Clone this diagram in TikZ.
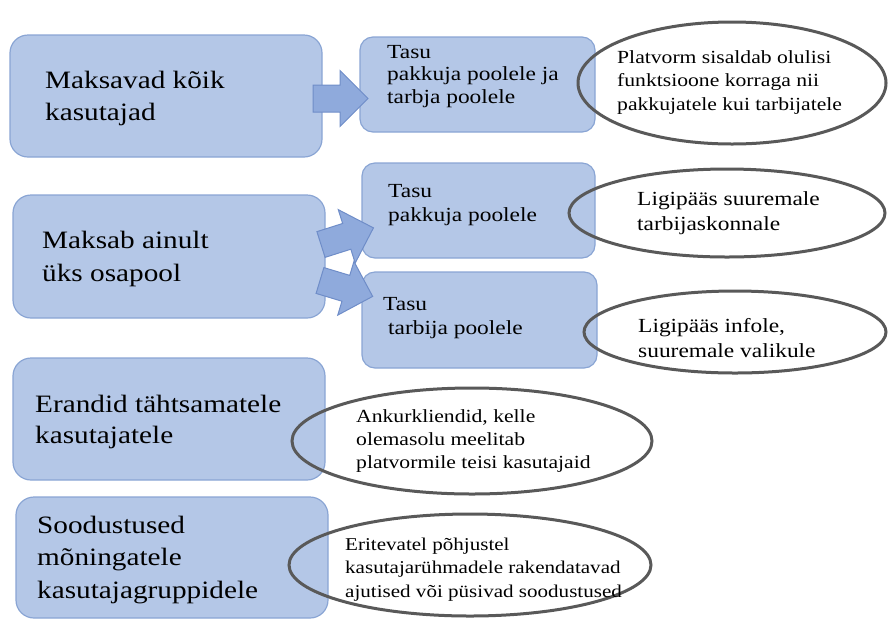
\documentclass[tikz,border=0pt]{standalone}
\usepackage{fontspec}
\setmainfont{Liberation Serif}[FakeStretch=1.17]
\usetikzlibrary{shapes.geometric}

\definecolor{boxfill}{HTML}{B4C7E7}
\definecolor{boxline}{HTML}{8AA5D4}
\definecolor{arrfill}{HTML}{8FAADC}
\definecolor{arrline}{HTML}{6F8DC8}
\definecolor{ovalline}{HTML}{595959}

% lines of text stacked left aligned; the box baseline is the first line's
\newcommand\txtlines[1]{\vtop{\halign{##\hfil\cr#1\crcr}}}

\tikzset{
  bigbox/.style={draw=boxline, line width=1.2pt, fill=boxfill, rounded corners=18pt, inner sep=0pt},
  smallbox/.style={draw=boxline, line width=1.2pt, fill=boxfill, rounded corners=13pt, inner sep=0pt},
  oval/.style={ellipse, draw=ovalline, line width=3pt, inner sep=0pt},
  txt/.style={anchor=base west, inner sep=0pt, text=black},
  arrowshape/.style={draw=arrline, line width=1pt, fill=arrfill, line join=miter},
}

% block arrow: tail centre at #1, turned by #2 degrees (counter-clockwise)
\newcommand\blockarrow[2]{%
  \begin{scope}[shift={#1}, rotate=#2]
    \draw[arrowshape] (0,-13.5) -- (27,-13.5) -- (27,-28) -- (55,0) -- (27,28) -- (27,13.5) -- (0,13.5) -- cycle;
  \end{scope}}

\begin{document}
\begin{tikzpicture}[x=1pt, y=-1pt]
\useasboundingbox (0,0) rectangle (888,622);

% left column
\node[bigbox, minimum width=312pt, minimum height=122pt] (b1) at (166,96) {};
\node[bigbox, minimum width=312pt, minimum height=123pt] (b3) at (169,256.5) {};
\node[bigbox, minimum width=312pt, minimum height=122pt] (b5) at (169,419) {};
\node[bigbox, minimum width=312pt, minimum height=121pt] (b6) at (172,557.5) {};

% middle column
\node[smallbox, minimum width=235pt, minimum height=95pt] (b2) at (477.5,84.5) {};
\node[smallbox, minimum width=233pt, minimum height=95pt] (b4a) at (478.5,210.5) {};
\node[smallbox, minimum width=235pt, minimum height=96pt] (b4b) at (479.5,320) {};

% block arrows between the columns
\blockarrow{(313,98.5)}{0}
\blockarrow{(321,244.5)}{17.6}
\blockarrow{(320,280.5)}{-16.8}

% ovals
\node[oval, minimum width=308pt, minimum height=122pt] (e1) at (732,83) {};
\node[oval, minimum width=316pt, minimum height=88pt] (e2) at (727,213) {};
\node[oval, minimum width=302pt, minimum height=82pt] (e3) at (735,332) {};
\node[oval, minimum width=360pt, minimum height=106pt] (e4) at (472,441) {};
\node[oval, minimum width=362pt, minimum height=102pt] (e5) at (470,565) {};

% texts of the boxes
\node[txt, font=\fontsize{25}{32}\selectfont] (t1) at (45,88) {\txtlines{Maksavad kõik\cr kasutajad}};
\node[txt, font=\fontsize{25}{33}\selectfont] (t3) at (42,248) {\txtlines{Maksab ainult\cr üks osapool}};
\node[txt, font=\fontsize{25}{31}\selectfont] (t5) at (35,412) {\txtlines{Erandid tähtsamatele\cr kasutajatele}};
\node[txt, font=\fontsize{25}{32.5}\selectfont] (t6) at (37,533) {\txtlines{Soodustused\cr mõningatele\cr kasutajagruppidele}};

\node[txt, font=\fontsize{20}{22.5}\selectfont] (t2) at (387,58) {\txtlines{Tasu\cr pakkuja poolele ja\cr tarbja poolele}};
\node[txt, font=\fontsize{20}{24}\selectfont] (t4a) at (388,197) {\txtlines{Tasu\cr pakkuja poolele}};
\node[txt, font=\fontsize{20}{24}\selectfont] (t4b) at (383,310) {Tasu};
\node[txt, font=\fontsize{20}{24}\selectfont] (t4c) at (388,334) {tarbija poolele};

% texts of the ovals
\node[txt, font=\fontsize{18.5}{23.5}\selectfont] (s1) at (617,63) {\txtlines{Platvorm sisaldab olulisi\cr funktsioone korraga nii\cr pakkujatele kui tarbijatele}};
\node[txt, font=\fontsize{20}{25}\selectfont] (s2) at (637,205) {\txtlines{Ligipääs suuremale\cr tarbijaskonnale}};
\node[txt, font=\fontsize{20}{25}\selectfont] (s3) at (638,332) {\txtlines{Ligipääs infole,\cr suuremale valikule}};
\node[txt, font=\fontsize{18.5}{23}\selectfont] (s4) at (356,422) {\txtlines{Ankurkliendid, kelle\cr olemasolu meelitab\cr platvormile teisi kasutajaid}};
\node[txt, font=\fontsize{18}{23.5}\selectfont] (s5) at (345,550) {\txtlines{Eritevatel põhjustel\cr kasutajarühmadele rakendatavad\cr ajutised või püsivad soodustused}};
\end{tikzpicture}
\end{document}
